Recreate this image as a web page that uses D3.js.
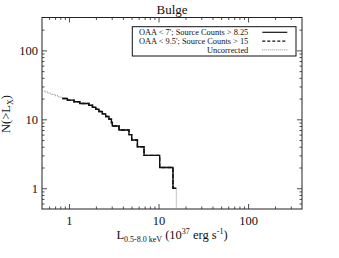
<!DOCTYPE html>
<html>
<head>
<meta charset="utf-8">
<script src="https://cdn.jsdelivr.net/npm/d3@7"></script>
<style>
body { margin: 0; background: #fff; }
text { font-family: "Liberation Serif", "Times New Roman", serif; fill: #111; }
</style>
</head>
<body>
<div id="chart"></div>
<script>
// luminosity where each step begins (10^37 erg/s) and the cumulative count on that step
var solidL = [0.844, 0.96, 1.14, 1.32, 1.67, 1.83, 1.99, 2.16, 2.36, 2.57, 2.80, 2.98, 3.05, 3.62, 4.68, 5.02, 5.81, 6.89, 10.3, 14.5];
var solidN = [20, 19, 18, 17, 16, 15, 14, 13, 12, 11, 10, 9, 8, 7, 6, 5, 4, 3, 2, 1];
var lastL = 15.8;

// uncorrected curve: extra low-luminosity part, then same as above
var uncLowL = [0.5, 0.53, 0.58, 0.63, 0.70, 0.76];
var uncLowN = [26, 25, 24, 23, 22, 21];

var xTicks = [1, 10, 100];
var yTicks = [1, 10, 100];
var legendLabels = ["OAA < 7'; Source Counts > 8.25", "OAA < 9.5'; Source Counts > 15", "Uncorrected"];

// set the dimensions and margins of the graph
var W = 339, H = 258;
var margin = {top: 17.5, right: 37, bottom: 49, left: 42},
    width = W - margin.left - margin.right,
    height = H - margin.top - margin.bottom;

var svg = d3.select("#chart")
  .append("svg")
  .attr("width", W)
  .attr("height", H)
  .append("g")
  .attr("transform", "translate(" + margin.left + "," + margin.top + ")");

var x = d3.scaleLog().domain([0.5, 400]).range([0, width]);
var y = d3.scaleLog().domain([0.5, 300]).range([height, 0]);

// minor ticks 2..9 in each decade
function minors(scale) {
  var d = scale.domain(), out = [];
  for (var e = -1; e <= 3; e++) {
    for (var m = 2; m <= 9; m++) {
      var v = m * Math.pow(10, e);
      if (v > d[0] && v < d[1]) out.push(v);
    }
  }
  return out;
}

function styleAxis(g) {
  g.select(".domain").remove();
  g.selectAll("line").attr("stroke", "#222").attr("stroke-width", 0.8);
  g.selectAll("text").style("font-family", "Liberation Serif").style("font-size", "12.5px").attr("fill", "#111");
}

// ---- axes, ticks pointing inward on all 4 sides ----
svg.append("g").attr("transform", "translate(0," + height + ")")
  .call(d3.axisBottom(x).tickValues(xTicks).tickSize(-5).tickPadding(7).tickFormat(d3.format("d")))
  .call(styleAxis);
svg.append("g").attr("transform", "translate(0," + height + ")")
  .call(d3.axisBottom(x).tickValues(minors(x)).tickSize(-2.5).tickFormat(""))
  .call(styleAxis);
svg.append("g")
  .call(d3.axisTop(x).tickValues(xTicks).tickSize(-5).tickFormat(""))
  .call(styleAxis);
svg.append("g")
  .call(d3.axisTop(x).tickValues(minors(x)).tickSize(-2.5).tickFormat(""))
  .call(styleAxis);

svg.append("g")
  .call(d3.axisLeft(y).tickValues(yTicks).tickSize(-5).tickPadding(4).tickFormat(d3.format("d")))
  .call(styleAxis);
svg.append("g")
  .call(d3.axisLeft(y).tickValues(minors(y)).tickSize(-2.5).tickFormat(""))
  .call(styleAxis);
svg.append("g").attr("transform", "translate(" + width + ",0)")
  .call(d3.axisRight(y).tickValues(yTicks).tickSize(-5).tickFormat(""))
  .call(styleAxis);
svg.append("g").attr("transform", "translate(" + width + ",0)")
  .call(d3.axisRight(y).tickValues(minors(y)).tickSize(-2.5).tickFormat(""))
  .call(styleAxis);

// frame
svg.append("rect")
  .attr("width", width).attr("height", height)
  .attr("fill", "none").attr("stroke", "#222").attr("stroke-width", 1);

// ---- curves ----
svg.append("clipPath").attr("id", "clip")
  .append("rect").attr("width", width).attr("height", height);

var floorN = y.domain()[0];
var solidPts = solidL.map(function(d, i) { return [d, solidN[i]]; });
solidPts.push([lastL, solidN[solidN.length - 1]]);
var uncPts = uncLowL.map(function(d, i) { return [d, uncLowN[i]]; })
  .concat(solidL.map(function(d, i) { return [d, solidN[i]]; }));
uncPts.push([lastL, solidN[solidN.length - 1]]);
uncPts.push([lastL, floorN]);

var line = d3.line()
  .x(function(d) { return x(d[0]); })
  .y(function(d) { return y(d[1]); })
  .curve(d3.curveStepAfter);

var plot = svg.append("g").attr("clip-path", "url(#clip)");
plot.append("path").attr("d", line(uncPts))
  .attr("fill", "none").attr("stroke", "#888").attr("stroke-width", 1)
  .attr("stroke-dasharray", "1,1");
plot.append("path").attr("d", line(solidPts))
  .attr("fill", "none").attr("stroke", "#111").attr("stroke-width", 1.4)
  .attr("stroke-dasharray", "4,2");
plot.append("path").attr("d", line(solidPts))
  .attr("fill", "none").attr("stroke", "#111").attr("stroke-width", 1.4);

// ---- legend ----
var lg = svg.append("g").attr("transform", "translate(" + (132.3 - margin.left) + "," + (26.7 - margin.top) + ")");
lg.append("rect").attr("width", 163.7).attr("height", 29.3)
  .attr("fill", "#fff").attr("stroke", "#111").attr("stroke-width", 1);
var dashes = [null, "3,2", "1,1"];
var lcol = ["#111", "#111", "#888"];
legendLabels.forEach(function(t, i) {
  var ly = 5.6 + i * 8.8;
  lg.append("text").attr("x", 116).attr("y", ly).attr("dy", "0.35em")
    .attr("text-anchor", "end").style("font-size", "8.4px").text(t);
  lg.append("line").attr("x1", 130).attr("x2", 155).attr("y1", ly).attr("y2", ly)
    .attr("stroke", lcol[i]).attr("stroke-width", i == 2 ? 1 : 1.2)
    .attr("stroke-dasharray", dashes[i]);
});

// ---- titles ----
svg.append("text").attr("x", width / 2).attr("y", -4)
  .attr("text-anchor", "middle").style("font-size", "13px").text("Bulge");

var xl = svg.append("text").attr("x", width / 2).attr("y", height + 30)
  .attr("text-anchor", "middle").style("font-size", "12.5px");
xl.append("tspan").text("L");
xl.append("tspan").attr("dy", 3).style("font-size", "8px").text("0.5-8.0 keV");
xl.append("tspan").attr("dy", -3).text(" (10");
xl.append("tspan").attr("dy", -5).style("font-size", "8px").text("37");
xl.append("tspan").attr("dy", 5).text(" erg s");
xl.append("tspan").attr("dy", -5).style("font-size", "8px").text("-1");
xl.append("tspan").attr("dy", 5).text(")");

var yl = svg.append("text")
  .attr("transform", "translate(" + (10 - margin.left) + "," + (114 - margin.top) + ") rotate(-90)")
  .attr("text-anchor", "middle").style("font-size", "12.5px");
yl.append("tspan").text("N(>L");
yl.append("tspan").attr("dy", 3).style("font-size", "8px").text("X");
yl.append("tspan").attr("dy", -3).text(")");
</script>
</body>
</html>
